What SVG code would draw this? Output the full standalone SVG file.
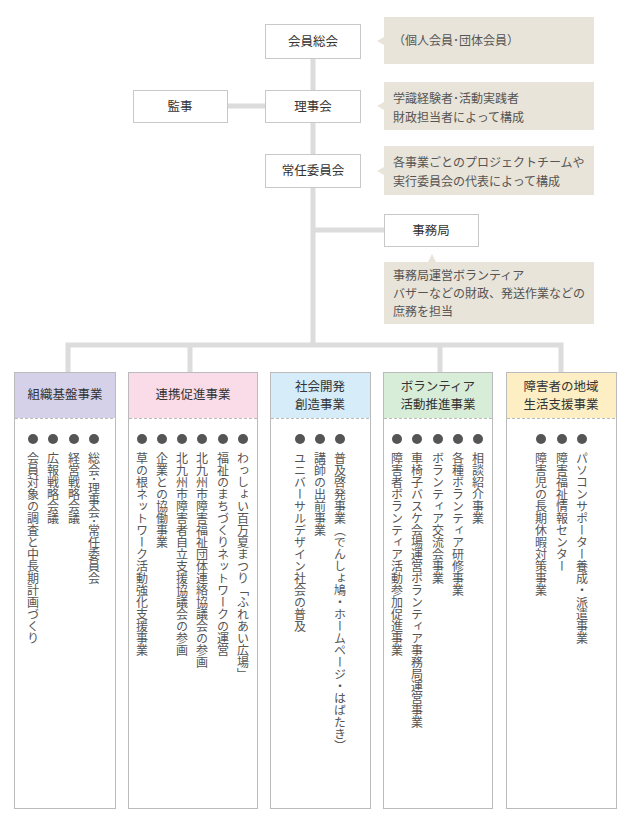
<svg xmlns="http://www.w3.org/2000/svg" width="630" height="827" viewBox="0 0 630 827">
<style>
text{font-family:"Noto Sans CJK JP","Noto Sans",sans-serif;}
.box{fill:#fff;stroke:#c8c8c8;stroke-width:1}
.bt{font-size:12.5px;fill:#333;text-anchor:middle}
.note{fill:#e8e4d9}
.nt{font-size:12px;fill:#555}
.con{stroke:#dcdcdc;stroke-width:5;fill:none}
.body{fill:#fff;stroke:#bbb;stroke-width:1}
.dash{stroke:#bbb;stroke-width:1;stroke-dasharray:3 2}
.vt{writing-mode:vertical-rl;font-size:12px;fill:#555}
.dot{fill:#555}
.ht{font-size:12.5px;fill:#333;text-anchor:middle}
</style>
<rect width="630" height="827" fill="#fff"/>
<g id="connectors">
<path class="con" d="M313 58V347M227 106H265M313 230H384M68 372V345H561V372M190 345V372M440 345V372"/>
</g>
<g id="n-sokai"><rect class="box" x="265.5" y="24.5" width="95" height="34"/><text class="bt" x="313" y="46">会員総会</text></g>
<g id="note1"><path class="note" d="M384 17H594V64H384V45L377 41L384 37Z"/><text class="nt" x="393" y="45">（個人会員･団体会員）</text></g>
<g id="n-kanji"><rect class="box" x="133.5" y="90.5" width="94" height="32"/><text class="bt" x="180" y="111">監事</text></g>
<g id="n-rijikai"><rect class="box" x="265.5" y="90.5" width="95" height="32"/><text class="bt" x="313" y="111">理事会</text></g>
<g id="note2"><path class="note" d="M384 82H594V130H384V110L377 106L384 102Z"/><text class="nt" x="393" y="103">学識経験者･活動実践者</text><text class="nt" x="393" y="122">財政担当者によって構成</text></g>
<g id="n-jonin"><rect class="box" x="265.5" y="154.5" width="95" height="33"/><text class="bt" x="313" y="175">常任委員会</text></g>
<g id="note3"><path class="note" d="M384 146H594V195H384V175L377 171L384 167Z"/><text class="nt" x="393" y="167">各事業ごとのプロジェクトチームや</text><text class="nt" x="393" y="186">実行委員会の代表によって構成</text></g>
<g id="n-jimukyoku"><rect class="box" x="384.5" y="214.5" width="94" height="32"/><text class="bt" x="431" y="235">事務局</text></g>
<g id="note4"><path class="note" d="M384 262H428L432 254L436 262H594V324H384Z"/><text class="nt" x="393" y="280">事務局運営ボランティア</text><text class="nt" x="393" y="298">バザーなどの財政、発送作業などの</text><text class="nt" x="393" y="316">庶務を担当</text></g>

<g id="col1">
<rect class="body" x="14.5" y="372.5" width="101" height="436"/><rect x="15" y="373" width="100" height="45" fill="#d5d1e8"/><line class="dash" x1="15" y1="418.5" x2="115" y2="418.5"/>
<text class="ht" x="65" y="399">組織基盤事業</text>
<circle class="dot" cx="94" cy="439" r="5"/><circle class="dot" cx="74" cy="439" r="5"/><circle class="dot" cx="53" cy="439" r="5"/><circle class="dot" cx="33" cy="439" r="5"/>
<text class="vt" x="94" y="452">総会･理事会･常任委員会</text>
<text class="vt" x="74" y="452">経営戦略会議</text>
<text class="vt" x="53" y="452">広報戦略会議</text>
<text class="vt" x="33" y="452">会員対象の調査と中長期計画づくり</text>
</g>
<g id="col2">
<rect class="body" x="128.5" y="372.5" width="129" height="436"/><rect x="129" y="373" width="128" height="45" fill="#fadce8"/><line class="dash" x1="129" y1="418.5" x2="257" y2="418.5"/>
<text class="ht" x="193" y="399">連携促進事業</text>
<circle class="dot" cx="243" cy="439" r="5"/><circle class="dot" cx="223" cy="439" r="5"/><circle class="dot" cx="202" cy="439" r="5"/><circle class="dot" cx="182" cy="439" r="5"/><circle class="dot" cx="162" cy="439" r="5"/><circle class="dot" cx="142" cy="439" r="5"/>
<text class="vt" x="243" y="452">わっしょい百万夏まつり「ふれあい広場」</text>
<text class="vt" x="223" y="452">福祉のまちづくりネットワークの運営</text>
<text class="vt" x="202" y="452">北九州市障害福祉団体連絡協議会の参画</text>
<text class="vt" x="182" y="452">北九州市障害者自立支援協議会の参画</text>
<text class="vt" x="162" y="452">企業との協働事業</text>
<text class="vt" x="142" y="452">草の根ネットワーク活動強化支援事業</text>
</g>
<g id="col3">
<rect class="body" x="270.5" y="372.5" width="100" height="436"/><rect x="271" y="373" width="99" height="45" fill="#d6ecf9"/><line class="dash" x1="271" y1="418.5" x2="370" y2="418.5"/>
<text class="ht" x="320" y="391">社会開発</text><text class="ht" x="320" y="409">創造事業</text>
<circle class="dot" cx="340" cy="439" r="5"/><circle class="dot" cx="320" cy="439" r="5"/><circle class="dot" cx="300" cy="439" r="5"/>
<text class="vt" x="340" y="452">普及啓発事業（でんしょ鳩・ホームページ・はばたき）</text>
<text class="vt" x="320" y="452">講師の出前事業</text>
<text class="vt" x="300" y="452">ユニバーサルデザイン社会の普及</text>
</g>
<g id="col4">
<rect class="body" x="383.5" y="372.5" width="109" height="436"/><rect x="384" y="373" width="108" height="45" fill="#d8edd7"/><line class="dash" x1="384" y1="418.5" x2="492" y2="418.5"/>
<text class="ht" x="438" y="391">ボランティア</text><text class="ht" x="438" y="409">活動推進事業</text>
<circle class="dot" cx="478" cy="439" r="5"/><circle class="dot" cx="458" cy="439" r="5"/><circle class="dot" cx="438" cy="439" r="5"/><circle class="dot" cx="417" cy="439" r="5"/><circle class="dot" cx="397" cy="439" r="5"/>
<text class="vt" x="478" y="452">相談紹介事業</text>
<text class="vt" x="458" y="452">各種ボランティア研修事業</text>
<text class="vt" x="438" y="452">ボランティア交流会事業</text>
<text class="vt" x="417" y="452">車椅子バスケ会場運営ボランティア事務局運営事業</text>
<text class="vt" x="397" y="452">障害者ボランティア活動参加促進事業</text>
</g>
<g id="col5">
<rect class="body" x="506.5" y="372.5" width="110" height="436"/><rect x="507" y="373" width="109" height="45" fill="#fdeec3"/><line class="dash" x1="507" y1="418.5" x2="616" y2="418.5"/>
<text class="ht" x="561" y="391">障害者の地域</text><text class="ht" x="561" y="409">生活支援事業</text>
<circle class="dot" cx="582" cy="439" r="5"/><circle class="dot" cx="562" cy="439" r="5"/><circle class="dot" cx="541" cy="439" r="5"/>
<text class="vt" x="582" y="452">パソコンサポーター養成・派遣事業</text>
<text class="vt" x="562" y="452">障害福祉情報センター</text>
<text class="vt" x="541" y="452">障害児の長期休暇対策事業</text>
</g>
</svg>
